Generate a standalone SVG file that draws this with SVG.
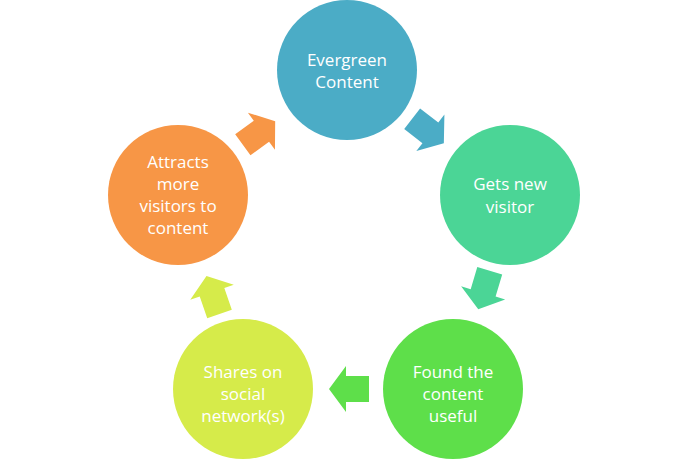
<svg xmlns="http://www.w3.org/2000/svg" width="696" height="467" viewBox="0 0 696 467">
<style>
text{font-family:"Open Sans","Noto Sans",sans-serif;font-size:17px;fill:#fff;text-anchor:middle}
</style>
<defs>
<path id="arr" d="M-20,-13 L3,-13 L3,-23 L20,0 L3,23 L3,13 L-20,13 Z"/>
</defs>
<rect width="696" height="467" fill="#fff"/>
<g id="connectors">
<use href="#arr" fill="#4BACC6" transform="translate(428,131) rotate(37.6)"/>
<use href="#arr" fill="#4BD596" transform="translate(484,290) rotate(106.7)"/>
<use href="#arr" fill="#5EDF4A" transform="translate(349,389) rotate(180)"/>
<use href="#arr" fill="#D6EB4A" transform="translate(213,295) rotate(-109)"/>
<use href="#arr" fill="#F79646" transform="translate(259,133) rotate(-36)"/>
</g>
<g id="evergreen">
<circle cx="347" cy="70" r="70" fill="#4BACC6"/>
<text x="347" y="66">Evergreen</text>
<text x="347" y="88">Content</text>
</g>
<g id="gets">
<circle cx="510" cy="195" r="70" fill="#4BD596"/>
<text x="510" y="190">Gets new</text>
<text x="510" y="213">visitor</text>
</g>
<g id="found">
<circle cx="453" cy="389" r="70" fill="#5EDF4A"/>
<text x="453" y="378">Found the</text>
<text x="453" y="400">content</text>
<text x="453" y="422">useful</text>
</g>
<g id="shares">
<circle cx="243" cy="389" r="70" fill="#D6EB4A"/>
<text x="243" y="378">Shares on</text>
<text x="243" y="400">social</text>
<text x="243" y="422">network(s)</text>
</g>
<g id="attracts">
<circle cx="178" cy="195" r="70" fill="#F79646"/>
<text x="178" y="168">Attracts</text>
<text x="178" y="190">more</text>
<text x="178" y="212">visitors to</text>
<text x="178" y="234">content</text>
</g>
</svg>
